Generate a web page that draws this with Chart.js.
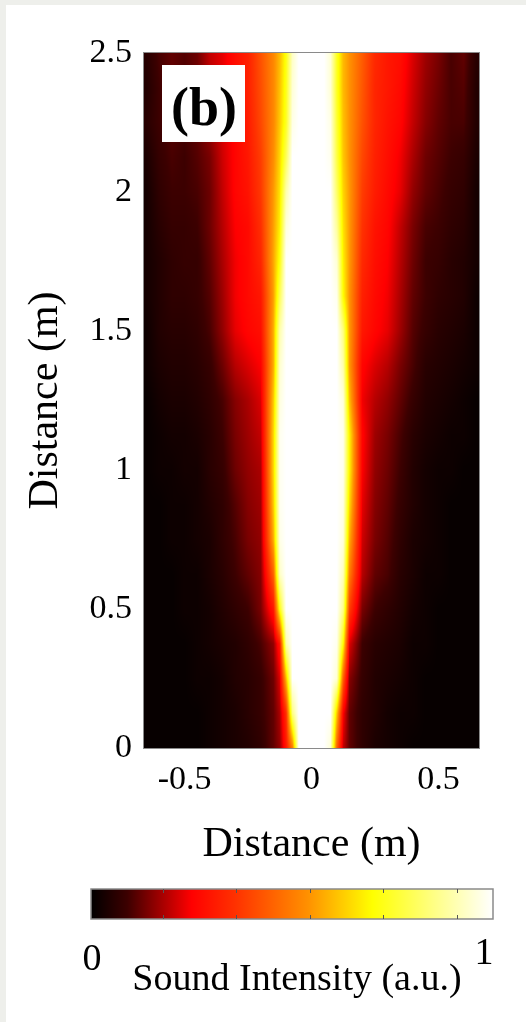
<!DOCTYPE html>
<html>
<head>
<meta charset="utf-8">
<script src="https://cdn.jsdelivr.net/npm/chart.js@4.4.1/dist/chart.umd.min.js"></script>
<style>
  html, body { margin: 0; padding: 0; background: #eeefeb; }
  #wrap { position: absolute; left: 6px; top: 5px; width: 520px; height: 1017px; background: #fff; }
</style>
</head>
<body>
<div id="wrap"><canvas id="beam"></canvas></div>
<script>
// grid of the sound field (x across, y from top to bottom)
// columns: 10 on the left side, 11 across the beam, 10 on the right side
const xValues = [-0.65, -0.6, -0.55, -0.5, -0.45, -0.4, -0.35, -0.3, -0.25, -0.2,
  -0.15, -0.125, -0.1, -0.075, -0.05, 0, 0.05, 0.075, 0.1, 0.125, 0.15,
  0.2, 0.25, 0.3, 0.35, 0.4, 0.45, 0.5, 0.55, 0.6, 0.65];
const yValues = [2.5, 2.375, 2.25, 2.125, 2.0, 1.875, 1.75, 1.625, 1.5, 1.375, 1.25, 1.125, 1.0,
  0.875, 0.75, 0.625, 0.5, 0.375, 0.25, 0.125, 0];
const intensity = [
  [0.06,0.10,0.12,0.11,0.13,0.20,0.23,0.28,0.32,0.42, 0.52,0.60,0.72,0.93,1,1,1,0.95,0.74,0.60,0.54, 0.44,0.34,0.30,0.28,0.22,0.17,0.14,0.10,0.12,0.06],
  [0.05,0.09,0.12,0.10,0.13,0.19,0.23,0.28,0.32,0.41, 0.52,0.61,0.73,0.95,1,1,1,0.95,0.74,0.60,0.54, 0.43,0.33,0.30,0.27,0.21,0.16,0.13,0.10,0.11,0.05],
  [0.06,0.09,0.11,0.10,0.12,0.17,0.22,0.26,0.31,0.40, 0.52,0.62,0.74,0.97,1,1,1,0.97,0.76,0.61,0.54, 0.42,0.33,0.29,0.26,0.20,0.15,0.12,0.10,0.10,0.05],
  [0.04,0.08,0.10,0.09,0.11,0.14,0.21,0.26,0.30,0.38, 0.53,0.64,0.80,1,1,1,1,0.98,0.78,0.62,0.54, 0.40,0.32,0.28,0.24,0.18,0.13,0.11,0.09,0.08,0.04],
  [0.03,0.07,0.09,0.09,0.10,0.13,0.20,0.26,0.29,0.37, 0.55,0.66,0.90,1,1,1,1,1,0.82,0.64,0.55, 0.38,0.31,0.27,0.23,0.16,0.12,0.10,0.08,0.07,0.03],
  [0.03,0.06,0.08,0.08,0.09,0.13,0.19,0.25,0.27,0.35, 0.56,0.68,0.96,1,1,1,1,1,0.88,0.66,0.55, 0.36,0.29,0.26,0.20,0.14,0.10,0.09,0.07,0.06,0.03],
  [0.03,0.05,0.07,0.08,0.08,0.12,0.18,0.24,0.27,0.33, 0.57,0.72,1,1,1,1,1,1,0.95,0.68,0.55, 0.34,0.28,0.25,0.19,0.13,0.09,0.08,0.06,0.05,0.03],
  [0.03,0.05,0.07,0.07,0.08,0.11,0.17,0.24,0.27,0.30, 0.56,0.80,1,1,1,1,1,1,0.98,0.70,0.54, 0.32,0.27,0.24,0.18,0.12,0.09,0.07,0.06,0.05,0.02],
  [0.02,0.05,0.06,0.06,0.07,0.10,0.16,0.23,0.26,0.28, 0.58,0.90,1,1,1,1,1,1,1,0.85,0.55, 0.30,0.26,0.23,0.17,0.11,0.08,0.06,0.05,0.04,0.02],
  [0.02,0.04,0.05,0.05,0.06,0.08,0.13,0.19,0.22,0.25, 0.58,0.94,1,1,1,1,1,1,1,0.90,0.55, 0.26,0.22,0.19,0.14,0.10,0.06,0.05,0.04,0.03,0.02],
  [0.01,0.03,0.04,0.04,0.05,0.07,0.10,0.15,0.18,0.22, 0.62,0.96,1,1,1,1,1,1,1,0.96,0.60, 0.24,0.19,0.16,0.12,0.08,0.05,0.04,0.03,0.02,0.01],
  [0.01,0.02,0.03,0.03,0.04,0.06,0.09,0.14,0.17,0.20, 0.64,0.98,1,1,1,1,1,1,1,0.98,0.68, 0.26,0.17,0.14,0.10,0.06,0.04,0.03,0.02,0.02,0.01],
  [0.01,0.02,0.02,0.03,0.03,0.06,0.08,0.13,0.16,0.18, 0.64,0.98,1,1,1,1,1,1,1,0.98,0.68, 0.25,0.16,0.13,0.09,0.05,0.03,0.02,0.02,0.01,0.01],
  [0.01,0.01,0.02,0.02,0.03,0.05,0.07,0.11,0.15,0.17, 0.62,0.98,1,1,1,1,1,1,1,0.97,0.64, 0.23,0.15,0.12,0.08,0.05,0.03,0.02,0.01,0.01,0.01],
  [0.01,0.01,0.02,0.02,0.03,0.04,0.07,0.10,0.14,0.16, 0.58,0.97,1,1,1,1,1,1,1,0.96,0.58, 0.21,0.14,0.11,0.07,0.04,0.03,0.02,0.01,0.01,0.01],
  [0.01,0.01,0.01,0.02,0.02,0.04,0.06,0.09,0.12,0.15, 0.45,0.93,1,1,1,1,1,1,1,0.92,0.50, 0.19,0.12,0.10,0.06,0.04,0.02,0.02,0.01,0.01,0.01],
  [0.01,0.01,0.01,0.02,0.02,0.03,0.05,0.07,0.09,0.14, 0.30,0.72,1,1,1,1,1,1,1,0.86,0.38, 0.14,0.09,0.07,0.05,0.03,0.02,0.01,0.01,0.01,0.01],
  [0.01,0.01,0.01,0.01,0.02,0.03,0.04,0.05,0.07,0.10, 0.16,0.30,0.90,1,1,1,1,1,0.98,0.70,0.22, 0.09,0.06,0.05,0.04,0.02,0.02,0.01,0.01,0.01,0.01],
  [0.01,0.01,0.01,0.01,0.02,0.02,0.03,0.05,0.06,0.08, 0.13,0.22,0.60,1,1,1,1,1,0.95,0.45,0.15, 0.08,0.05,0.04,0.03,0.02,0.01,0.01,0.01,0.01,0.01],
  [0.01,0.01,0.01,0.01,0.01,0.02,0.03,0.04,0.06,0.08, 0.12,0.18,0.35,0.85,1,1,1,1,0.62,0.25,0.12, 0.07,0.05,0.03,0.02,0.02,0.01,0.01,0.01,0.01,0.01],
  [0.01,0.01,0.01,0.01,0.01,0.02,0.03,0.04,0.05,0.07, 0.12,0.16,0.30,0.50,1,1,1,0.95,0.45,0.20,0.12, 0.07,0.04,0.03,0.02,0.01,0.01,0.01,0.01,0.01,0.01]
];
const xTicks = [-0.5, 0, 0.5];
const yTicks = [0, 0.5, 1, 1.5, 2, 2.5];
const colorbarTicks = [0.18, 0.36, 0.545, 0.727, 0.91];
const colorbarEnds = ["0", "1"];

// hot-like colour map: value -> rgb
const cmap = [
  [0, [0, 0, 0]],
  [0.09, [60, 0, 0]],
  [0.18, [170, 0, 0]],
  [0.25, [255, 0, 0]],
  [0.36, [255, 50, 0]],
  [0.54, [255, 145, 0]],
  [0.7, [255, 255, 0]],
  [0.85, [255, 255, 130]],
  [1, [255, 255, 255]]
];

const serif = "'Liberation Serif', 'Times New Roman', serif";
const tickFont = { family: serif, size: 34 };
const titleFont = { family: serif, size: 42 };

function colorAt(v) {
  v = Math.max(0, Math.min(1, v));
  for (let i = 1; i < cmap.length; i++) {
    if (v <= cmap[i][0]) {
      const a = cmap[i - 1], b = cmap[i];
      const t = (v - a[0]) / (b[0] - a[0]);
      return [0, 1, 2].map(k => a[1][k] + (b[1][k] - a[1][k]) * t);
    }
  }
  return cmap[cmap.length - 1][1];
}

// position of v inside a list of grid nodes as a fractional index
function fracIndex(list, v) {
  const asc = list[1] > list[0];
  for (let i = 0; i < list.length - 1; i++) {
    const a = list[i], b = list[i + 1];
    if ((asc && v <= b) || (!asc && v >= b)) {
      return i + Math.max(0, Math.min(1, (v - a) / (b - a)));
    }
  }
  return list.length - 1;
}

function shade(xv, yv) {
  const fx = fracIndex(xValues, xv), fy = fracIndex(yValues, yv);
  const i0 = Math.floor(fx), j0 = Math.floor(fy);
  const i1 = Math.min(i0 + 1, xValues.length - 1), j1 = Math.min(j0 + 1, yValues.length - 1);
  const tx = fx - i0, ty = fy - j0;
  const top = intensity[j0][i0] * (1 - tx) + intensity[j0][i1] * tx;
  const bot = intensity[j1][i0] * (1 - tx) + intensity[j1][i1] * tx;
  return top * (1 - ty) + bot * ty;
}

const heatmapPlugin = {
  id: "heatmap",
  beforeDatasetsDraw(chart) {
    const { ctx, chartArea: a, scales: { x, y } } = chart;
    const w = Math.round(a.right - a.left), h = Math.round(a.bottom - a.top);
    const off = document.createElement("canvas");
    off.width = w;
    off.height = h;
    const octx = off.getContext("2d");
    const img = octx.createImageData(w, h);
    for (let j = 0; j < h; j++) {
      const yv = y.getValueForPixel(a.top + j + 0.5);
      for (let i = 0; i < w; i++) {
        const c = colorAt(shade(x.getValueForPixel(a.left + i + 0.5), yv));
        const p = (j * w + i) * 4;
        img.data[p] = c[0];
        img.data[p + 1] = c[1];
        img.data[p + 2] = c[2];
        img.data[p + 3] = 255;
      }
    }
    octx.putImageData(img, 0, 0);
    ctx.drawImage(off, a.left, a.top);
  },
  afterDatasetsDraw(chart) {
    const { ctx, chartArea: a } = chart;
    ctx.save();
    ctx.strokeStyle = "#8a8a8a";
    ctx.lineWidth = 1;
    ctx.strokeRect(a.left - 0.5, a.top - 0.5, a.right - a.left + 1, a.bottom - a.top + 1);
    // panel label
    ctx.fillStyle = "#fff";
    ctx.fillRect(a.left + 18, a.top + 12, 83, 77);
    ctx.fillStyle = "#000";
    ctx.font = "bold 54px " + serif;
    ctx.textAlign = "center";
    ctx.textBaseline = "alphabetic";
    ctx.fillText("(b)", a.left + 60, a.top + 72);
    ctx.restore();
  }
};

const colorbarPlugin = {
  id: "colorbar",
  afterDraw(chart) {
    const ctx = chart.ctx;
    const left = 85, right = 487, top = 884, bottom = 914;
    ctx.save();
    const g = ctx.createLinearGradient(left, 0, right, 0);
    cmap.forEach(s => g.addColorStop(s[0], `rgb(${s[1][0]},${s[1][1]},${s[1][2]})`));
    ctx.fillStyle = g;
    ctx.fillRect(left, top, right - left, bottom - top);
    ctx.strokeStyle = "#8a8a8a";
    ctx.lineWidth = 1.5;
    ctx.strokeRect(left, top, right - left, bottom - top);
    ctx.strokeStyle = "#555";
    ctx.lineWidth = 1;
    colorbarTicks.forEach(t => {
      const px = Math.round(left + t * (right - left)) + 0.5;
      ctx.beginPath();
      ctx.moveTo(px, top); ctx.lineTo(px, top + 4);
      ctx.moveTo(px, bottom); ctx.lineTo(px, bottom - 4);
      ctx.stroke();
    });
    ctx.fillStyle = "#000";
    ctx.font = "38px " + serif;
    ctx.textAlign = "center";
    ctx.textBaseline = "middle";
    ctx.fillText(colorbarEnds[0], 86, 955);
    ctx.fillText(colorbarEnds[1], 478, 949);
    ctx.font = "38px " + serif;
    ctx.fillText("Sound Intensity (a.u.)", 291, 975);
    ctx.restore();
  }
};

const chart = new Chart(document.getElementById("beam"), {
  type: "scatter",
  data: { datasets: [{ data: [] }] },
  options: {
    responsive: true,
    maintainAspectRatio: false,
    animation: false,
    events: [],
    layout: { padding: { top: 48, right: 47, bottom: 0, left: 0 } },
    plugins: { legend: { display: false }, tooltip: { enabled: false } },
    scales: {
      x: {
        type: "linear",
        min: -0.66,
        max: 0.66,
        afterBuildTicks: s => { s.ticks = xTicks.map(v => ({ value: v })); },
        afterFit: s => { s.height = 274; },
        grid: { display: false, drawTicks: false },
        border: { display: false },
        ticks: { font: tickFont, color: "#000", padding: 12, maxRotation: 0, callback: v => String(v) },
        title: { display: true, text: "Distance (m)", font: titleFont, color: "#000", padding: { top: 0, bottom: 152 } }
      },
      y: {
        type: "linear",
        min: 0,
        max: 2.5,
        afterBuildTicks: s => { s.ticks = yTicks.map(v => ({ value: v })); },
        afterFit: s => { s.width = 138; },
        grid: { display: false, drawTicks: false },
        border: { display: false },
        ticks: { font: tickFont, color: "#000", padding: 12, callback: v => String(v) },
        title: { display: true, text: "Distance (m)", font: titleFont, color: "#000", padding: { top: 15, bottom: 0 } }
      }
    }
  },
  plugins: [heatmapPlugin, colorbarPlugin]
});
</script>
</body>
</html>
